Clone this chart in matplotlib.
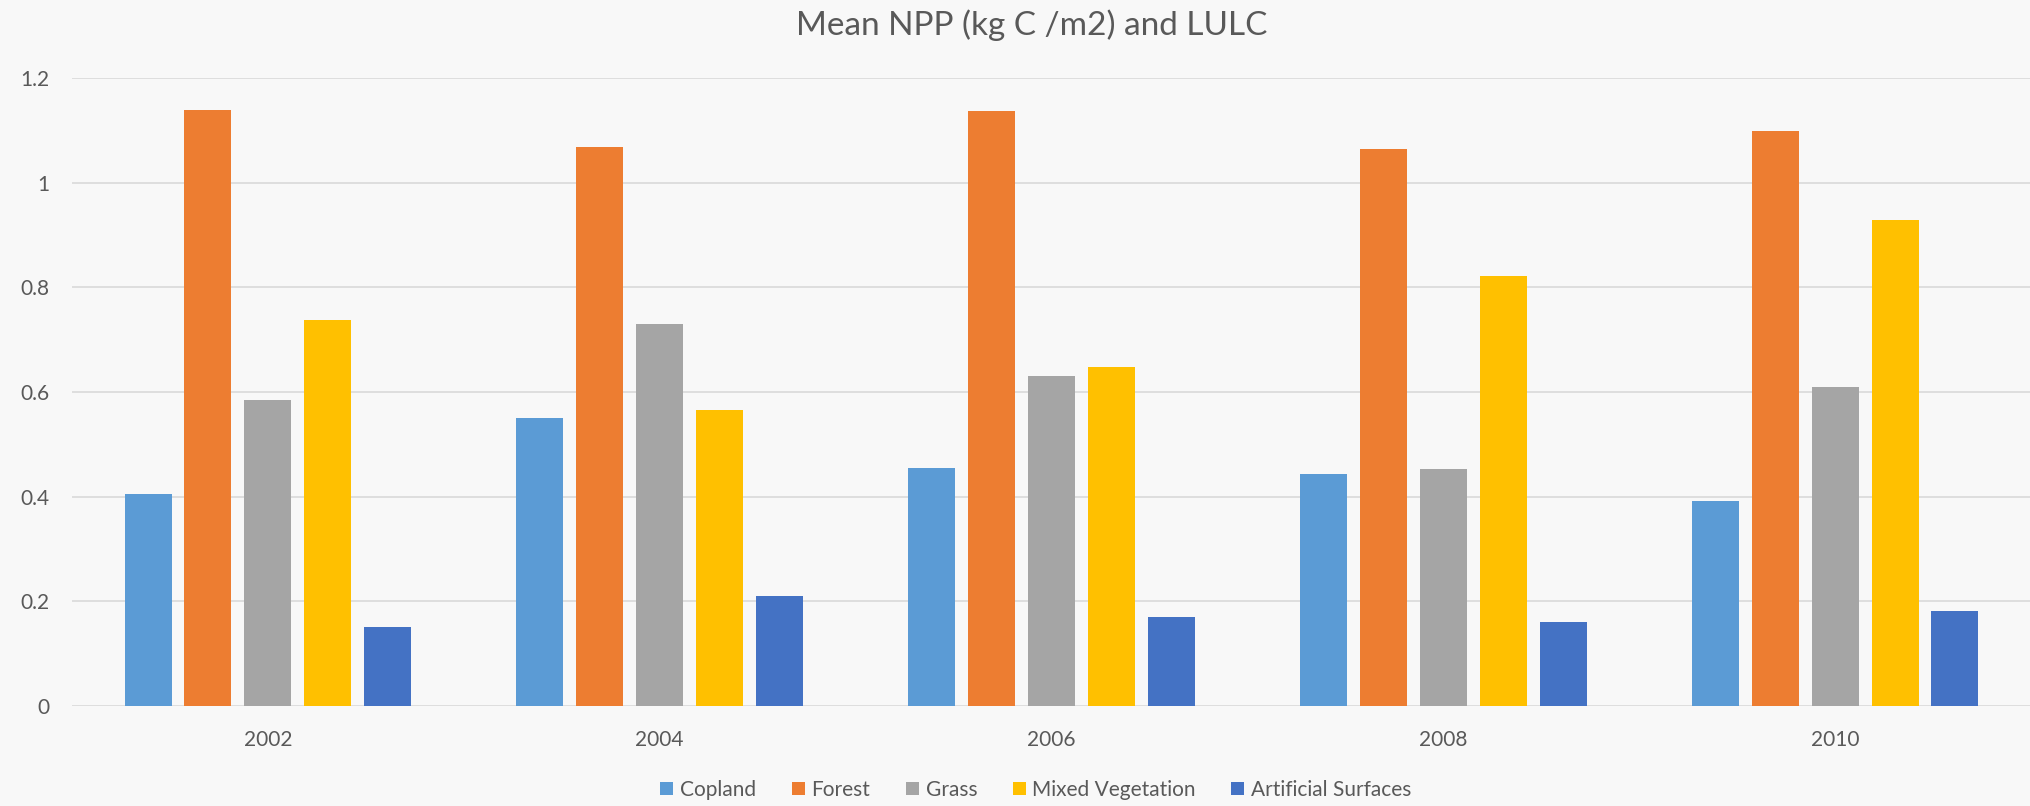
import matplotlib
matplotlib.use("Agg")
import matplotlib.pyplot as plt
import numpy as np

years = ["2002", "2004", "2006", "2008", "2010"]
series_names = ["Copland", "Forest", "Grass", "Mixed Vegetation", "Artificial Surfaces"]
copland = [0.406, 0.551, 0.455, 0.443, 0.391]
forest = [1.139, 1.069, 1.136, 1.064, 1.099]
grass = [0.584, 0.730, 0.631, 0.452, 0.609]
mixed = [0.737, 0.566, 0.648, 0.821, 0.928]
artificial = [0.151, 0.211, 0.171, 0.161, 0.181]
colors = ["#5B9BD5", "#ED7D31", "#A5A5A5", "#FFC000", "#4472C4"]
yticks = [0, 0.2, 0.4, 0.6, 0.8, 1.0, 1.2]
ytick_labels = ["0", "0.2", "0.4", "0.6", "0.8", "1", "1.2"]

bg = "#F8F8F8"
txt = "#595959"
plt.rcParams["font.family"] = ["Lato", "DejaVu Sans"]

W, H = 2031, 806
fig = plt.figure(figsize=(W / 100, H / 100), dpi=100, facecolor=bg)
ax_left, ax_bottom_px, ax_top_px = 72, 706, 78
ax = fig.add_axes([ax_left / W, 1 - ax_bottom_px / H, 1 - ax_left / W, (ax_bottom_px - ax_top_px) / H])
ax.set_facecolor(bg)

x = np.arange(len(years))
step = 0.153
width = 0.12
all_series = [copland, forest, grass, mixed, artificial]
for i, (name, vals, c) in enumerate(zip(series_names, all_series, colors)):
    ax.bar(x + (i - 2) * step, vals, width=width, color=c, label=name, zorder=3)

ax.set_xlim(-0.5, len(years) - 0.5)
ax.set_ylim(0, 1.2)
ax.set_yticks(yticks)
ax.set_yticklabels(ytick_labels)
ax.set_xticks(x)
ax.set_xticklabels(years)
ax.grid(axis="y", color="#D9D9D9", lw=1.2, zorder=0)
for s in ["top", "right", "left", "bottom"]:
    ax.spines[s].set_visible(False)
ax.tick_params(axis="both", length=0, colors=txt, labelsize=15)
ax.tick_params(axis="y", pad=16)
ax.tick_params(axis="x", pad=17)

fig.text(1032 / W, 1 - 25 / H, "Mean NPP (kg C /m2) and LULC", ha="center", va="center",
         fontsize=24, color=txt)

# legend centred at x~1036 px, y~790 px
ax_w = W - ax_left
leg = ax.legend(loc="center",
                bbox_to_anchor=((1036 - ax_left) / ax_w, -(790 - ax_bottom_px) / (ax_bottom_px - ax_top_px)),
                ncol=5, frameon=False, fontsize=15, handlelength=0.62, handleheight=0.62,
                handletextpad=0.33, columnspacing=1.7)
for t in leg.get_texts():
    t.set_color(txt)

fig.savefig("out.png", dpi=100, facecolor=bg)
